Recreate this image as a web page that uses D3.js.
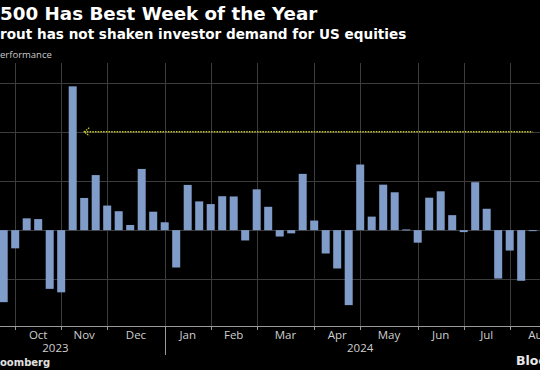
<!DOCTYPE html>
<html>
<head>
<meta charset="utf-8">
<script src="https://cdn.jsdelivr.net/npm/d3@7"></script>
<style>
  body { margin: 0; background: #000; }
  svg { display: block; }
</style>
</head>
<body>
<div id="chart"></div>
<script>
// weekly S&P 500 performance (%), week-ending Fridays
var weeks = [
  "2023-09-22", "2023-09-29", "2023-10-06", "2023-10-13", "2023-10-20", "2023-10-27",
  "2023-11-03", "2023-11-10", "2023-11-17", "2023-11-24", "2023-12-01", "2023-12-08",
  "2023-12-15", "2023-12-22", "2023-12-29", "2024-01-05", "2024-01-12", "2024-01-19",
  "2024-01-26", "2024-02-02", "2024-02-09", "2024-02-16", "2024-02-23", "2024-03-01",
  "2024-03-08", "2024-03-15", "2024-03-22", "2024-03-29", "2024-04-05", "2024-04-12",
  "2024-04-19", "2024-04-26", "2024-05-03", "2024-05-10", "2024-05-17", "2024-05-24",
  "2024-05-31", "2024-06-07", "2024-06-14", "2024-06-21", "2024-06-28", "2024-07-05",
  "2024-07-12", "2024-07-19", "2024-07-26", "2024-08-02", "2024-08-09"
];
var values = [
  -2.93, -0.74, 0.48, 0.45, -2.39, -2.53,
  5.85, 1.31, 2.24, 1.00, 0.77, 0.21,
  2.49, 0.75, 0.32, -1.52, 1.84, 1.17,
  1.06, 1.38, 1.37, -0.42, 1.66, 0.95,
  -0.26, -0.13, 2.29, 0.39, -0.95, -1.56,
  -3.05, 2.67, 0.55, 1.85, 1.54, 0.03,
  -0.51, 1.32, 1.58, 0.61, -0.08, 1.95,
  0.87, -1.97, -0.83, -2.06, -0.04
];

// gridlines sit on the last week of each month
var monthEnds = ["2023-09-29", "2023-10-27", "2023-11-24", "2023-12-29", "2024-01-26", "2024-02-23",
                 "2024-03-29", "2024-04-26", "2024-05-31", "2024-06-28", "2024-07-26", "2024-08-30"];
var monthLabels = ["Oct", "Nov", "Dec", "Jan", "Feb", "Mar", "Apr", "May", "Jun", "Jul", "Aug"];
var years = ["2023", "2024"];
var yearFrom = ["2023-08-18", "2024-01-05"];
var yearTo = ["2023-12-29", "2024-08-16"];
var yearBreak = "2023-12-29";
var yTicks = [-2, 0, 2, 4, 6];

// arrow: this week's gain pointing back to the November week
var arrowValue = 4.0;
var arrowFrom = "2024-08-09";
var arrowTo = "2023-11-10";

var width = 540, height = 370;
var parse = d3.timeParse("%Y-%m-%d");

var svg = d3.select("#chart")
  .append("svg")
    .attr("width", width)
    .attr("height", height);

svg.append("rect")
  .attr("width", width)
  .attr("height", height)
  .attr("fill", "#000");

var x = d3.scaleTime()
  .domain([parse(weeks[0]), parse(weeks[weeks.length - 1])])
  .range([3.7, 532.7]);

var y = d3.scaleLinear()
  .domain([-3.9, 6.8])
  .range([326, 63]);

var barW = 8;

// horizontal gridlines
svg.append("g")
  .selectAll("line")
  .data(yTicks)
  .enter()
  .append("line")
    .attr("x1", 0)
    .attr("x2", width)
    .attr("y1", function(d) { return Math.round(y(d)) + 0.5; })
    .attr("y2", function(d) { return Math.round(y(d)) + 0.5; })
    .attr("stroke", "#3c3c3c")
    .attr("stroke-width", 1);

// vertical gridlines at month ends
svg.append("g")
  .selectAll("line")
  .data(monthEnds)
  .enter()
  .append("line")
    .attr("x1", function(d) { return Math.round(x(parse(d))) + 0.5; })
    .attr("x2", function(d) { return Math.round(x(parse(d))) + 0.5; })
    .attr("y1", 63)
    .attr("y2", y.range()[0])
    .attr("stroke", "#3c3c3c")
    .attr("stroke-width", 1);

// bars
svg.append("g")
  .selectAll("rect")
  .data(weeks)
  .enter()
  .append("rect")
    .attr("x", function(d) { return x(parse(d)) - barW / 2; })
    .attr("y", function(d, i) { return y(Math.max(0, values[i])); })
    .attr("width", barW)
    .attr("height", function(d, i) { return Math.max(1, Math.abs(y(values[i]) - y(0))); })
    .attr("fill", "#809cc9");

// arrow annotation
var ay = y(arrowValue);
var ax = x(parse(arrowTo));
svg.append("line")
  .attr("x1", ax)
  .attr("x2", x(parse(arrowFrom)))
  .attr("y1", ay)
  .attr("y2", ay)
  .attr("stroke", "#c9c62a")
  .attr("stroke-width", 1.5)
  .attr("stroke-dasharray", "1.5,1.2");
svg.append("path")
  .attr("d", "M" + (ax + 5) + "," + (ay - 4) + " L" + ax + "," + ay + " L" + (ax + 5) + "," + (ay + 4))
  .attr("fill", "none")
  .attr("stroke", "#c9c62a")
  .attr("stroke-width", 1.3)
  .attr("stroke-dasharray", "1.5,1");

// x axis
var axisY = y.range()[0];
svg.append("line")
  .attr("x1", 0)
  .attr("x2", width)
  .attr("y1", axisY + 0.5)
  .attr("y2", axisY + 0.5)
  .attr("stroke", "#9a9a9a");

svg.append("g")
  .selectAll("line")
  .data(monthEnds)
  .enter()
  .append("line")
    .attr("x1", function(d) { return Math.round(x(parse(d))) + 0.5; })
    .attr("x2", function(d) { return Math.round(x(parse(d))) + 0.5; })
    .attr("y1", axisY)
    .attr("y2", function(d) { return d === yearBreak ? axisY + 29 : axisY + 4; })
    .attr("stroke", "#9a9a9a");

svg.append("g")
  .selectAll("text")
  .data(monthLabels)
  .enter()
  .append("text")
    .text(function(d) { return d; })
    .attr("x", function(d, i) { return (x(parse(monthEnds[i])) + x(parse(monthEnds[i + 1]))) / 2; })
    .attr("y", axisY + 13)
    .attr("text-anchor", "middle")
    .style("font-family", "'Open Sans', sans-serif")
    .style("font-size", "11.5px")
    .style("fill", "#cfcfcf");

svg.append("g")
  .selectAll("text")
  .data(years)
  .enter()
  .append("text")
    .text(function(d) { return d; })
    .attr("x", function(d, i) { return (x(parse(yearFrom[i])) + x(parse(yearTo[i]))) / 2; })
    .attr("y", axisY + 26)
    .attr("text-anchor", "middle")
    .style("font-family", "'Open Sans', sans-serif")
    .style("font-size", "11.5px")
    .style("fill", "#cfcfcf");

// titles and notes
svg.append("text")
  .text("500 Has Best Week of the Year")
  .attr("x", 0)
  .attr("y", 20)
  .style("font-family", "'DejaVu Sans', sans-serif")
  .style("font-weight", "bold")
  .style("font-size", "18.3px")
  .style("fill", "#fff");

svg.append("text")
  .text("rout has not shaken investor demand for US equities")
  .attr("x", 0)
  .attr("y", 39)
  .style("font-family", "'DejaVu Sans', sans-serif")
  .style("font-weight", "bold")
  .style("font-size", "13.6px")
  .style("fill", "#fff");

svg.append("text")
  .text("erformance")
  .attr("x", 0)
  .attr("y", 58)
  .style("font-family", "'Open Sans', sans-serif")
  .style("font-size", "9.5px")
  .style("fill", "#c8c8c8");

svg.append("text")
  .text("oomberg")
  .attr("x", 0)
  .attr("y", 366)
  .style("font-family", "'DejaVu Sans', sans-serif")
  .style("font-weight", "bold")
  .style("font-size", "10px")
  .style("fill", "#e0e0e0");

svg.append("text")
  .text("Bloo")
  .attr("x", 516)
  .attr("y", 365)
  .style("font-family", "'DejaVu Sans', sans-serif")
  .style("font-weight", "bold")
  .style("font-size", "12.5px")
  .style("fill", "#e8e8e8");
</script>
</body>
</html>
